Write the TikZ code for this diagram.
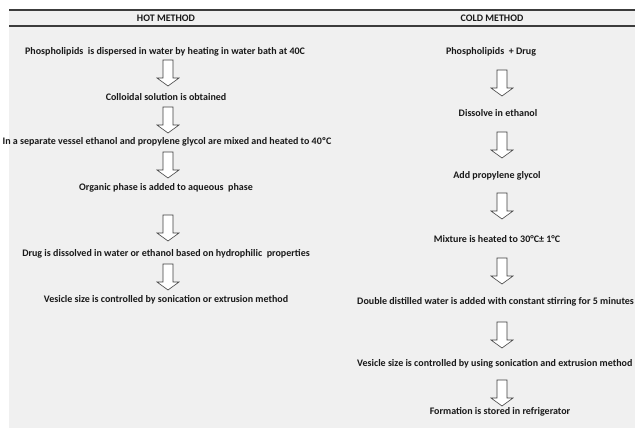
\documentclass[tikz,border=0pt]{standalone}
\usepackage{fontspec}
\setmainfont{Carlito}
\definecolor{bg}{RGB}{240,240,240}
\definecolor{rulec}{RGB}{60,60,60}
\begin{document}
\begin{tikzpicture}[x=1pt,y=-1pt,
 txt/.style={font=\bfseries\fontsize{10}{12}\selectfont, inner sep=0pt, text=black!90},
 barrow/.pic={\draw[draw=black!75, fill=white, line width=0.6pt, line join=miter]
   (-5,0) -- (5,0) -- (5,18) -- (11,18) -- (0,26) -- (-11,18) -- (-5,18) -- cycle;}]
\useasboundingbox (0,0) rectangle (635,428);
\clip (0,0) rectangle (635,428);
\fill[bg] (9,10) rectangle (635,428);
\draw[rulec, line width=1.2pt] (9,10) -- (635,10);
\draw[rulec, line width=1.2pt] (9,26) -- (635,26);
\node[txt] (hot) at (166,18) {HOT METHOD};
\node[txt] (cold) at (492,18) {COLD METHOD};
% hot column
\node[txt] (l1) at (165,52) {Phospholipids\ \ is dispersed in water by heating in water bath at 40C};
\node[txt] (l2) at (166,97) {Colloidal solution is obtained};
\node[txt] (l3) at (167,142) {In a separate vessel ethanol and propylene glycol are mixed and heated to 40ºC};
\node[txt] (l4) at (166,188) {Organic phase is added to aqueous\ \ phase};
\node[txt] (l5) at (166,254) {Drug is dissolved in water or ethanol based on hydrophilic\ \ properties};
\node[txt] (l6) at (166,300) {Vesicle size is controlled by sonication or extrusion method};
\pic (la1) at (168,60) {barrow};
\pic (la2) at (168,107) {barrow};
\pic (la3) at (168,152) {barrow};
\pic (la4) at (168,215) {barrow};
\pic (la5) at (168,264) {barrow};
% cold column
\node[txt] (r1) at (491,52) {Phospholipids\ \ + Drug};
\node[txt] (r2) at (498,113) {Dissolve in ethanol};
\node[txt] (r3) at (497,176) {Add propylene glycol};
\node[txt] (r4) at (497,239) {Mixture is heated to 30°C± 1°C};
\node[txt, anchor=west] (r5) at (357,302) {Double distilled water is added with constant stirring for 5 minutes};
\node[txt, anchor=west] (r6) at (357,364) {Vesicle size is controlled by using sonication and extrusion method};
\node[txt] (r7) at (500,412) {Formation is stored in refrigerator};
\pic (ra1) at (502,70) {barrow};
\pic (ra2) at (502,132) {barrow};
\pic (ra3) at (502,193) {barrow};
\pic (ra4) at (502,258) {barrow};
\pic (ra5) at (502,322) {barrow};
\pic (ra6) at (502,380) {barrow};
\end{tikzpicture}
\end{document}
